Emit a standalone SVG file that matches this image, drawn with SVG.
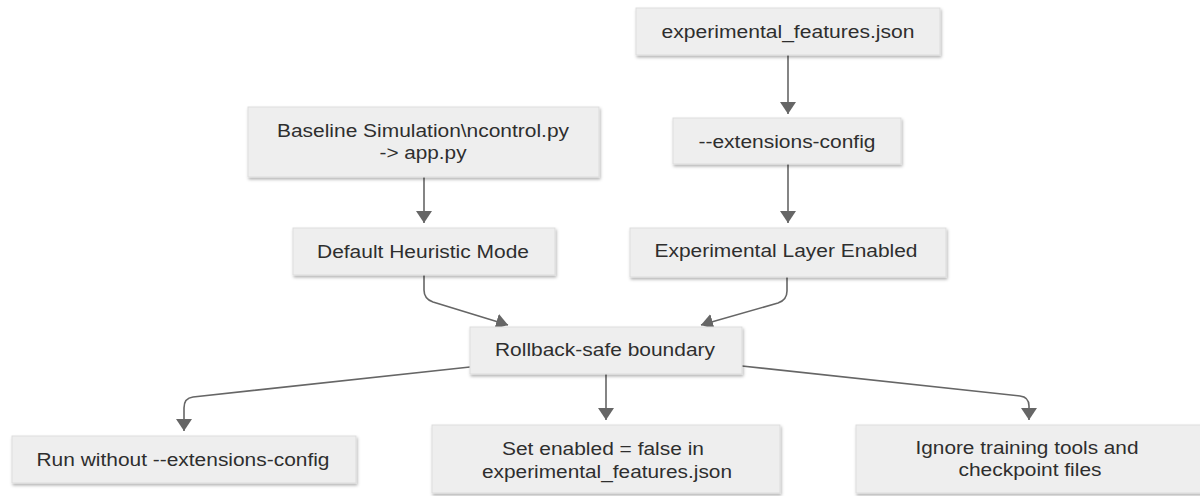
<svg xmlns="http://www.w3.org/2000/svg" width="1200" height="496" viewBox="0 0 1200 496">
  <defs>
    <filter id="sh" x="-5%" y="-10%" width="110%" height="130%">
      <feDropShadow dx="1" dy="2" stdDeviation="1.5" flood-color="#000" flood-opacity="0.3"/>
    </filter>
    <marker id="ah" viewBox="0 0 12 16" refX="12" refY="8" markerWidth="12" markerHeight="16" markerUnits="userSpaceOnUse" orient="auto">
      <path d="M0,0 L12,8 L0,16 z" fill="#666"/>
    </marker>
    <style>
      .box { fill: #eeeeee; stroke: #dddddd; stroke-width: 1; filter: url(#sh); }
      .lbl { font-family: "Liberation Sans", Arial, sans-serif; font-size: 17.5px; fill: #2e2e2e; text-anchor: middle; }
      .edge { fill: none; stroke: #666; stroke-width: 1.6; marker-end: url(#ah); }
    </style>
  </defs>
  <rect width="1200" height="496" fill="#ffffff"/>

  <g id="connectors">
    <path class="edge" d="M788,55 L788,114"/>
    <path class="edge" d="M788,164 L788,223"/>
    <path class="edge" d="M424,177 L424,223"/>
    <path class="edge" d="M424,275 L424,290 Q424,299 433,302 L508,325"/>
    <path class="edge" d="M787,277 L787,291 Q787,300 778,303 L701,325"/>
    <path class="edge" d="M470,367 L193,397 Q184,398 184,408 L184,431"/>
    <path class="edge" d="M606,374 L606,420"/>
    <path class="edge" d="M742,366 L1020,396 Q1029,397 1029,406 L1029,420"/>
  </g>

  <g id="node-expfeatures">
    <rect class="box" x="636" y="8" width="304" height="47"/>
    <text class="lbl" x="788" y="38" textLength="253" lengthAdjust="spacingAndGlyphs">experimental_features.json</text>
  </g>
  <g id="node-extconfig">
    <rect class="box" x="673" y="118" width="228" height="46"/>
    <text class="lbl" x="787" y="148" textLength="177" lengthAdjust="spacingAndGlyphs">--extensions-config</text>
  </g>
  <g id="node-baseline">
    <rect class="box" x="248" y="107" width="351" height="70"/>
    <text class="lbl" x="423" y="137" textLength="292" lengthAdjust="spacingAndGlyphs">Baseline Simulation\ncontrol.py</text>
    <text class="lbl" x="423" y="159" textLength="87" lengthAdjust="spacingAndGlyphs">-&gt; app.py</text>
  </g>
  <g id="node-default">
    <rect class="box" x="293" y="228" width="262" height="47"/>
    <text class="lbl" x="423" y="258" textLength="212" lengthAdjust="spacingAndGlyphs">Default Heuristic Mode</text>
  </g>
  <g id="node-explayer">
    <rect class="box" x="630" y="228" width="316" height="49"/>
    <text class="lbl" x="786" y="257" textLength="263" lengthAdjust="spacingAndGlyphs">Experimental Layer Enabled</text>
  </g>
  <g id="node-rollback">
    <rect class="box" x="470" y="327" width="272" height="47"/>
    <text class="lbl" x="605" y="356" textLength="220" lengthAdjust="spacingAndGlyphs">Rollback-safe boundary</text>
  </g>
  <g id="node-run">
    <rect class="box" x="12" y="436" width="344" height="47"/>
    <text class="lbl" x="183" y="466" textLength="293" lengthAdjust="spacingAndGlyphs">Run without --extensions-config</text>
  </g>
  <g id="node-setenabled">
    <rect class="box" x="432" y="425" width="348" height="68"/>
    <text class="lbl" x="603" y="455" textLength="202" lengthAdjust="spacingAndGlyphs">Set enabled = false in</text>
    <text class="lbl" x="607" y="478" textLength="250" lengthAdjust="spacingAndGlyphs">experimental_features.json</text>
  </g>
  <g id="node-ignore">
    <rect class="box" x="856" y="425" width="346" height="68"/>
    <text class="lbl" x="1027" y="454" textLength="223" lengthAdjust="spacingAndGlyphs">Ignore training tools and</text>
    <text class="lbl" x="1030" y="476" textLength="143" lengthAdjust="spacingAndGlyphs">checkpoint files</text>
  </g>
</svg>
